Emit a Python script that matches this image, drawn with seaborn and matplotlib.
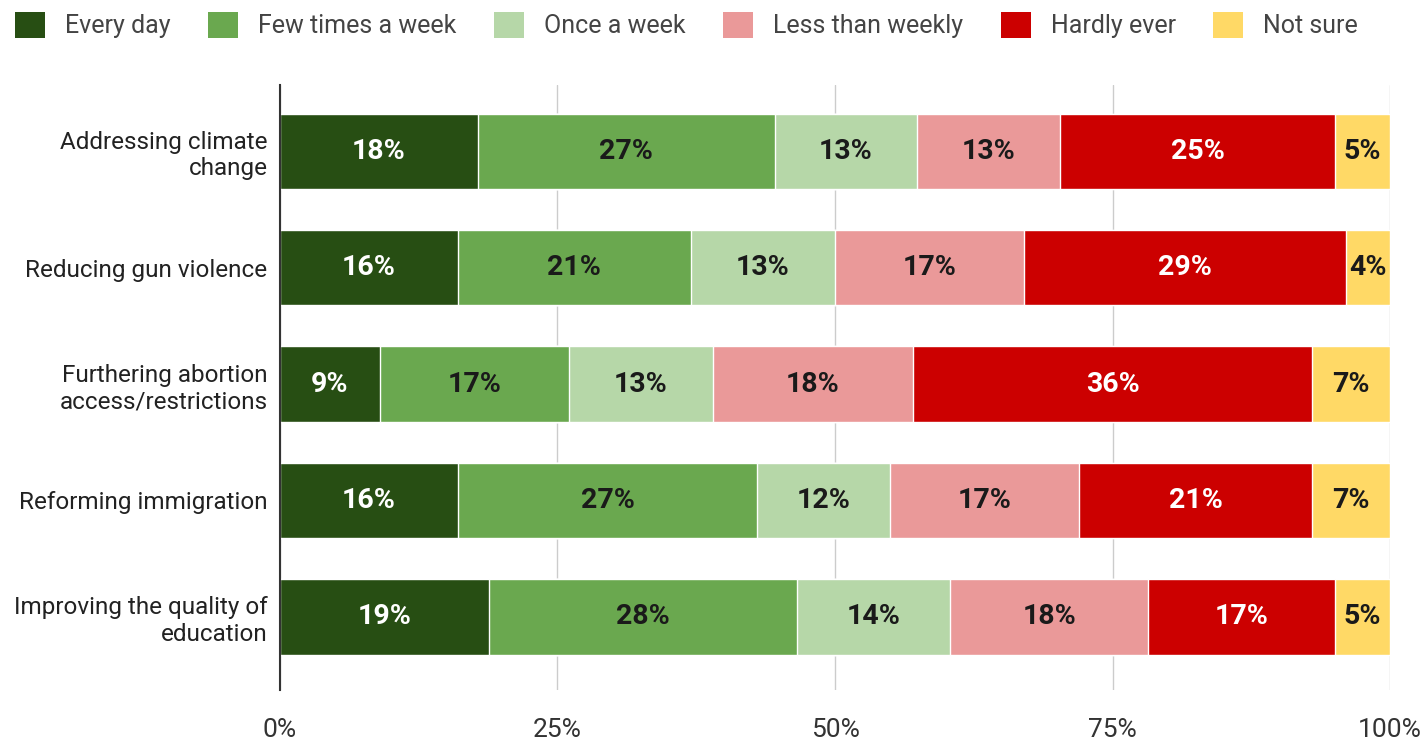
import matplotlib
matplotlib.use("Agg")
import matplotlib.pyplot as plt
import seaborn as sns
import numpy as np
import pandas as pd
from matplotlib.patches import Patch

# issues and response categories
issues = [
    "Addressing climate\nchange",
    "Reducing gun violence",
    "Furthering abortion\naccess/restrictions",
    "Reforming immigration",
    "Improving the quality of\neducation",
]
categories = ["Every day", "Few times a week", "Once a week",
              "Less than weekly", "Hardly ever", "Not sure"]

every_day = [18, 16, 9, 16, 19]
few_times = [27, 21, 17, 27, 28]
once_week = [13, 13, 13, 12, 14]
less_weekly = [13, 17, 18, 17, 18]
hardly_ever = [25, 29, 36, 21, 17]
not_sure = [5, 4, 7, 7, 5]

colors = ["#274e13", "#6aa84f", "#b6d7a8", "#ea9999", "#cc0000", "#ffd966"]
label_colors = ["white", "#1a1a1a", "#1a1a1a", "#1a1a1a", "white", "#1a1a1a"]

sns.set_theme(style="white")
plt.rcParams["font.family"] = ["Roboto", "DejaVu Sans"]

values = np.array([every_day, few_times, once_week, less_weekly,
                   hardly_ever, not_sure], dtype=float)
# shares of each row, stacked to 100%
shares = values / values.sum(axis=0) * 100
cum = np.cumsum(shares, axis=0)

fig = plt.figure(figsize=(14.22, 7.42), dpi=100)
ax = fig.add_axes([0.1969, 0.0701, 0.7806, 0.8153])

# draw cumulative bars from the outermost segment inwards
for i in range(len(categories) - 1, -1, -1):
    df = pd.DataFrame({"issue": issues, "value": cum[i]})
    sns.barplot(data=df, x="value", y="issue", color=colors[i],
                width=0.65, saturation=1, ax=ax, orient="h", zorder=3)

for i in range(len(categories)):
    for j in range(len(issues)):
        center = cum[i, j] - shares[i, j] / 2
        ax.text(center, j, f"{values[i, j]:.0f}%", ha="center", va="center",
                fontsize=20.5, fontweight="bold", color=label_colors[i], zorder=5)

ax.set_xlim(0, 100)
ax.set_ylim(4.63, -0.57)
ax.set_xticks([0, 25, 50, 75, 100])
ax.set_xticklabels(["0%", "25%", "50%", "75%", "100%"])
ax.xaxis.grid(True, color="#cccccc", linewidth=1, zorder=0)
ax.set_xlabel("")
ax.set_ylabel("")
for s in ["top", "right", "bottom"]:
    ax.spines[s].set_visible(False)
ax.spines["left"].set_color("#333333")
ax.spines["left"].set_linewidth(1.5)
ax.spines["left"].set_zorder(6)
ax.tick_params(axis="x", labelsize=19, colors="#333333", pad=20, length=0)
ax.tick_params(axis="y", labelsize=17.5, colors="#222222", pad=9, length=0)

handles = [Patch(facecolor=c, edgecolor="none") for c in colors]
fig.legend(handles, categories, loc="center left",
           bbox_to_anchor=(15 / 1422, 1 - 25 / 742),
           ncol=6, frameon=False, fontsize=18, handlelength=1.2,
           handleheight=1.2, handletextpad=0.8, columnspacing=1.5,
           borderpad=0, borderaxespad=0, labelcolor="#444444")

fig.savefig("out.png", dpi=100)
